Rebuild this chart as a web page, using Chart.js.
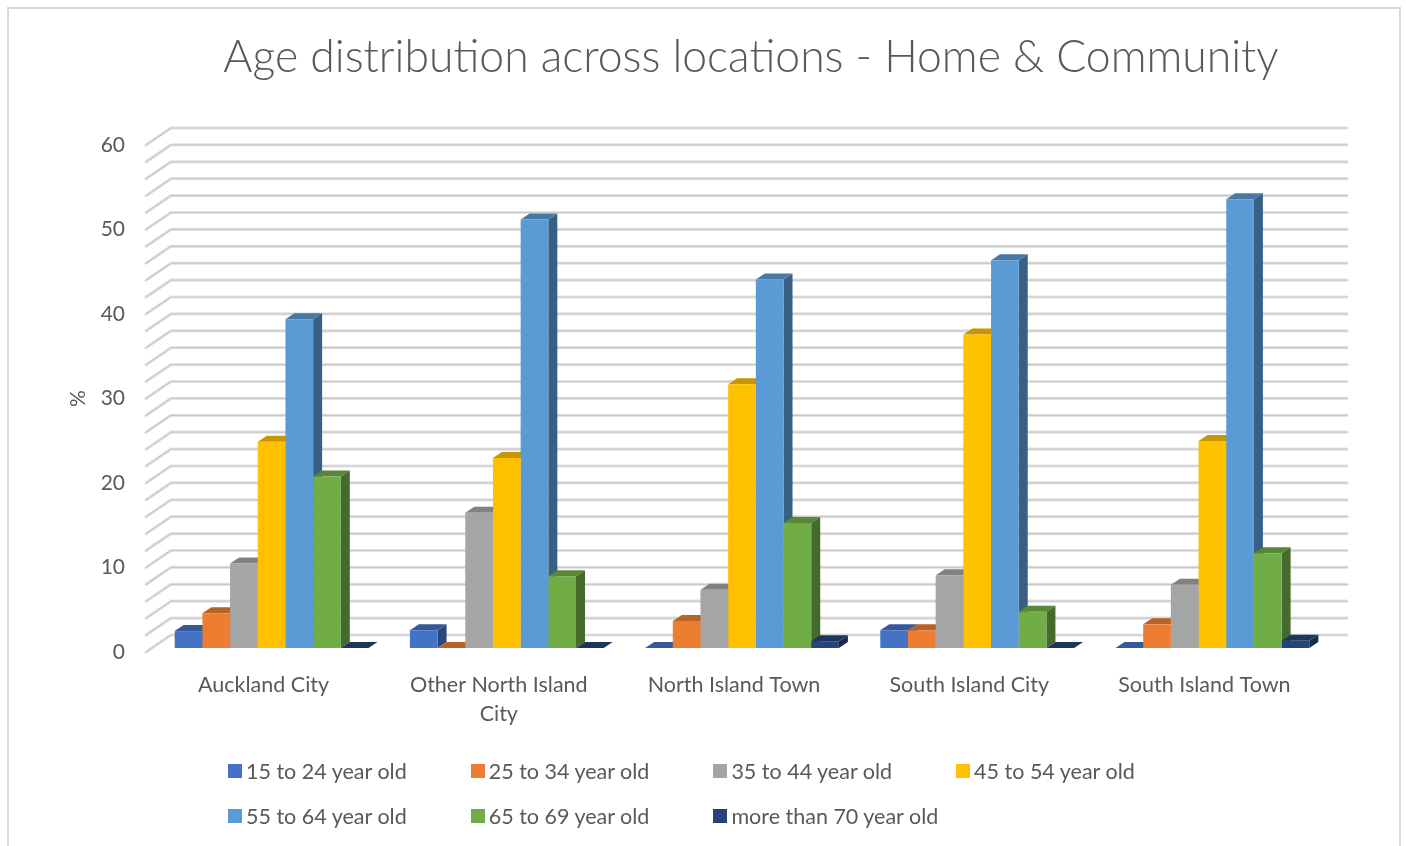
<!DOCTYPE html>
<html>
<head>
<meta charset="utf-8">
<title>Age distribution across locations - Home &amp; Community</title>
<script src="https://cdn.jsdelivr.net/npm/chart.js@4.4.1/dist/chart.umd.min.js"></script>
<style>
  html, body { margin: 0; padding: 0; background: #fff; }
  body { width: 1406px; height: 846px; overflow: hidden; position: relative; font-family: Lato, 'Open Sans', sans-serif; }
  .frame { position: absolute; left: 7px; top: 7px; width: 1390px; height: 900px; border: 2px solid #d9d9d9; }
  #chart { position: absolute; left: 0; top: 0; }
  .legend-item { position: absolute; display: flex; align-items: center; font-size: 21.5px; color: #595959; white-space: nowrap; line-height: 24px; }
  .legend-item i { display: inline-block; width: 14px; height: 14px; margin-right: 4px; }
</style>
</head>
<body>
<div class="frame"></div>
<canvas id="chart" width="1406" height="846"></canvas>
<div id="legend"></div>
<script>
(function () {
  'use strict';

  // --- Data ---

  var title = 'Age distribution across locations - Home & Community';
  var categories = ['Auckland City', ['Other North Island', 'City'], 'North Island Town', 'South Island City', 'South Island Town'];
  var seriesNames = ['15 to 24 year old', '25 to 34 year old', '35 to 44 year old', '45 to 54 year old',
    '55 to 64 year old', '65 to 69 year old', 'more than 70 year old'];
  var seriesColors = ['#4472C4', '#ED7D31', '#A5A5A5', '#FFC000', '#5B9BD5', '#70AD47', '#264478'];

  var age15to24 = [2.0, 2.1, 0, 2.1, 0];
  var age25to34 = [4.1, 0, 3.2, 2.1, 2.8];
  var age35to44 = [10.0, 16.0, 6.9, 8.6, 7.5];
  var age45to54 = [24.4, 22.5, 31.2, 37.1, 24.5];
  var age55to64 = [38.9, 50.7, 43.6, 45.9, 53.1];
  var age65to69 = [20.3, 8.5, 14.8, 4.3, 11.2];
  var age70plus = [0, 0, 0.8, 0, 0.85];
  var seriesValues = [age15to24, age25to34, age35to44, age45to54, age55to64, age65to69, age70plus];

  var yTicks = [0, 10, 20, 30, 40, 50, 60];
  var gridStep = 2;

  // --- 3D look ---

  var WALL_DX = 25, WALL_DY = 17;   // depth of the back wall
  var BAR_DX = 9, BAR_DY = 6;       // depth of each bar
  var BAR_SHIFT_X = 8, BAR_SHIFT_Y = 4;
  var textColor = '#595959';
  var font = 'Lato, "Open Sans", sans-serif';

  function shade(hex, f) {
    var n = parseInt(hex.slice(1), 16);
    var r = Math.round((n >> 16) * f);
    var g = Math.round(((n >> 8) & 255) * f);
    var b = Math.round((n & 255) * f);
    return 'rgb(' + r + ',' + g + ',' + b + ')';
  }

  var bars3d = {
    id: 'bars3d',
    beforeDatasetsDraw: function (chart) {
      var ctx = chart.ctx;
      var y = chart.scales.y;
      var area = chart.chartArea;

      // back wall gridlines with the little diagonals on the left
      ctx.save();
      ctx.lineCap = 'round';
      ctx.lineJoin = 'round';
      for (var v = y.min; v <= y.max; v += gridStep) {
        var py = y.getPixelForValue(v);
        ctx.beginPath();
        ctx.moveTo(area.left, py);
        ctx.lineTo(area.left + WALL_DX, py - WALL_DY);
        ctx.lineTo(area.right + WALL_DX, py - WALL_DY);
        ctx.strokeStyle = '#e4e4e4';
        ctx.lineWidth = 3.2;
        ctx.stroke();
        ctx.strokeStyle = '#c8c8c8';
        ctx.lineWidth = 1.2;
        ctx.stroke();
      }
      ctx.restore();

      // side and top faces first, the library draws the fronts over them
      ctx.save();
      ctx.translate(BAR_SHIFT_X, -BAR_SHIFT_Y);
      chart.data.datasets.forEach(function (ds, i) {
        var meta = chart.getDatasetMeta(i);
        meta.data.forEach(function (bar) {
          var p = bar.getProps(['x', 'y', 'base', 'width'], true);
          var x0 = p.x - p.width / 2;
          var x1 = p.x + p.width / 2;
          var top = Math.min(p.y, p.base);
          var base = Math.max(p.y, p.base);

          ctx.fillStyle = shade(ds.backgroundColor, 0.62);
          ctx.beginPath();
          ctx.moveTo(x1, top);
          ctx.lineTo(x1 + BAR_DX, top - BAR_DY);
          ctx.lineTo(x1 + BAR_DX, base - BAR_DY);
          ctx.lineTo(x1, base);
          ctx.closePath();
          ctx.fill();

          ctx.fillStyle = shade(ds.backgroundColor, 0.78);
          ctx.beginPath();
          ctx.moveTo(x0, top);
          ctx.lineTo(x0 + BAR_DX, top - BAR_DY);
          ctx.lineTo(x1 + BAR_DX, top - BAR_DY);
          ctx.lineTo(x1, top);
          ctx.closePath();
          ctx.fill();
        });
      });
    },
    afterDatasetsDraw: function (chart) {
      chart.ctx.restore();
    },
    afterDraw: function (chart) {
      var ctx = chart.ctx;
      ctx.save();
      ctx.font = '300 44.5px ' + font;
      ctx.fillStyle = textColor;
      ctx.textAlign = 'center';
      ctx.textBaseline = 'middle';
      ctx.fillText(title, 751, 58);
      ctx.restore();
    }
  };

  // --- Chart ---

  var ctx = document.getElementById('chart').getContext('2d');
  new Chart(ctx, {
    type: 'bar',
    data: {
      labels: categories,
      datasets: seriesNames.map(function (name, i) {
        return {
          label: name,
          data: seriesValues[i],
          backgroundColor: seriesColors[i],
          borderWidth: 0,
          categoryPercentage: 0.824,
          barPercentage: 1
        };
      })
    },
    options: {
      responsive: false,
      animation: false,
      layout: { padding: { left: 0, right: 84, top: 145, bottom: 0 } },
      plugins: {
        legend: { display: false },
        tooltip: { enabled: false },
        title: { display: false }
      },
      scales: {
        x: {
          grid: { display: false, drawTicks: false },
          border: { display: false },
          ticks: {
            color: textColor,
            font: { family: font, size: 21.5, lineHeight: 1.35 },
            padding: 19,
            maxRotation: 0,
            autoSkip: false
          },
          afterFit: function (s) { s.height = 194; }
        },
        y: {
          min: 0,
          max: 60,
          grid: { display: false, drawTicks: false },
          border: { display: false },
          ticks: {
            stepSize: gridStep,
            autoSkip: false,
            padding: 21,
            color: textColor,
            font: { family: font, size: 21 },
            callback: function (v) { return yTicks.indexOf(v) >= 0 ? v : ''; }
          },
          title: {
            display: true,
            text: '%',
            color: textColor,
            font: { family: font, size: 21 },
            padding: { top: 66, bottom: 0 }
          },
          afterFit: function (s) { s.width = 146; }
        }
      }
    },
    plugins: [bars3d]
  });

  // --- Legend (Excel-style grid) ---

  var legend = document.getElementById('legend');
  seriesNames.forEach(function (name, i) {
    var item = document.createElement('div');
    item.className = 'legend-item';
    item.style.left = (228 + (i % 4) * 242.7) + 'px';
    item.style.top = (759 + Math.floor(i / 4) * 45) + 'px';
    item.innerHTML = '<i style="background:' + seriesColors[i] + '"></i>';
    item.appendChild(document.createTextNode(name));
    legend.appendChild(item);
  });
})();
</script>
</body>
</html>
